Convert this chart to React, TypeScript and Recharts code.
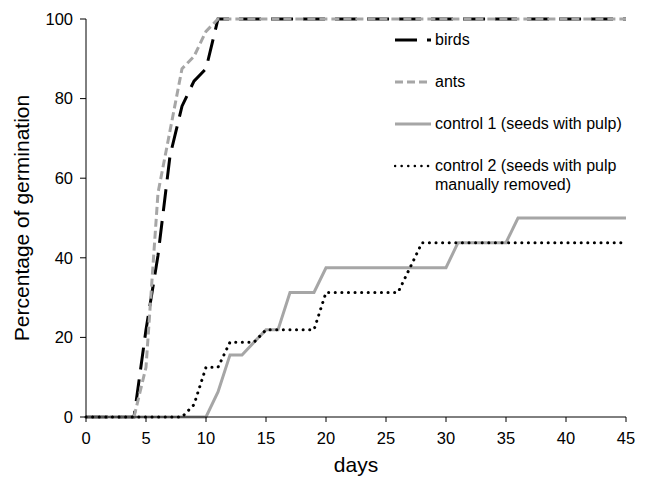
import React from "react";
import {
  LineChart,
  Line,
  XAxis,
  YAxis,
  Legend,
  Label,
} from "recharts";

const days = [
  0, 1, 2, 3, 4, 5, 6, 7, 8, 9, 10, 11, 12, 13, 14, 15, 16, 17, 18, 19, 20, 21,
  22, 23, 24, 25, 26, 27, 28, 29, 30, 31, 32, 33, 34, 35, 36, 37, 38, 39, 40,
  41, 42, 43, 44, 45,
];

const birds = [
  0, 0, 0, 0, 0, 21.9, 40.6, 65.6, 78.1, 84.4, 87.5, 100, 100, 100, 100, 100,
  100, 100, 100, 100, 100, 100, 100, 100, 100, 100, 100, 100, 100, 100, 100,
  100, 100, 100, 100, 100, 100, 100, 100, 100, 100, 100, 100, 100, 100, 100,
];

const ants = [
  0, 0, 0, 0, 0, 12.5, 56.3, 71.9, 87.5, 90.6, 96.9, 100, 100, 100, 100, 100,
  100, 100, 100, 100, 100, 100, 100, 100, 100, 100, 100, 100, 100, 100, 100,
  100, 100, 100, 100, 100, 100, 100, 100, 100, 100, 100, 100, 100, 100, 100,
];

const control1 = [
  0, 0, 0, 0, 0, 0, 0, 0, 0, 0, 0, 6.3, 15.6, 15.6, 18.8, 21.9, 21.9, 31.3,
  31.3, 31.3, 37.5, 37.5, 37.5, 37.5, 37.5, 37.5, 37.5, 37.5, 37.5, 37.5, 37.5,
  43.8, 43.8, 43.8, 43.8, 43.8, 50, 50, 50, 50, 50, 50, 50, 50, 50, 50,
];

const control2 = [
  0, 0, 0, 0, 0, 0, 0, 0, 0, 3.1, 12.5, 12.5, 18.8, 18.8, 18.8, 21.9, 21.9,
  21.9, 21.9, 21.9, 31.3, 31.3, 31.3, 31.3, 31.3, 31.3, 31.3, 37.5, 43.8, 43.8,
  43.8, 43.8, 43.8, 43.8, 43.8, 43.8, 43.8, 43.8, 43.8, 43.8, 43.8, 43.8, 43.8,
  43.8, 43.8, 43.8,
];

const xTicks = [0, 5, 10, 15, 20, 25, 30, 35, 40, 45];
const yTicks = [0, 20, 40, 60, 80, 100];

const data = days.map((d, i) => ({
  day: d,
  birds: birds[i],
  ants: ants[i],
  control1: control1[i],
  control2: control2[i],
}));

const FONT = '"Liberation Sans", Arial, sans-serif';
const GREY = "#a6a6a6";

// drawing order: birds first, ants over it, then the controls
const series = [
  { key: "birds", label: ["birds"], color: "#000", dash: "22 10", cap: "butt" },
  { key: "ants", label: ["ants"], color: GREY, dash: "8 4", cap: "butt" },
  {
    key: "control1",
    label: ["control 1 (seeds with pulp)"],
    color: GREY,
    dash: undefined,
    cap: "butt",
  },
  {
    key: "control2",
    label: ["control 2 (seeds with pulp", "manually removed)"],
    color: "#000",
    dash: "0.1 6.5",
    cap: "round",
  },
];

function LegendBox() {
  return (
    <div style={{ fontFamily: FONT, fontSize: 16, color: "#000" }}>
      {series.map((s, i) => (
        <div
          key={s.key}
          style={{
            display: "flex",
            alignItems: "flex-start",
            marginBottom: i < series.length - 1 ? 22 : 0,
          }}
        >
          <svg width={38} height={20} style={{ flex: "none" }}>
            <line
              x1={1}
              y1={10}
              x2={37}
              y2={10}
              stroke={s.color}
              strokeWidth={s.key === "control2" ? 2.5 : 3}
              strokeDasharray={s.dash}
              strokeLinecap={s.cap as any}
            />
          </svg>
          <div style={{ marginLeft: 3 }}>
            {s.label.map((t) => (
              <div key={t} style={{ height: 19, lineHeight: "20px", whiteSpace: "nowrap" }}>
                {t}
              </div>
            ))}
          </div>
        </div>
      ))}
    </div>
  );
}

export default function App() {
  return (
    <div
      style={{
        position: "absolute",
        left: 0,
        top: 0,
        width: 646,
        height: 482,
        background: "#fff",
      }}
    >
      <LineChart
        width={646}
        height={482}
        data={data}
        margin={{ top: 19, right: 20, left: 0, bottom: 0 }}
      >
        <XAxis
          dataKey="day"
          type="number"
          domain={[0, 45]}
          ticks={xTicks}
          height={65}
          tickSize={5}
          tickMargin={10}
          axisLine={{ stroke: "#000" }}
          tickLine={{ stroke: "#000" }}
          tick={{ fontSize: 16.5, fill: "#000", fontFamily: FONT }}
        >
          <Label
            value="days"
            position="insideBottom"
            offset={10}
            style={{ fontSize: 21, fill: "#000", fontFamily: FONT }}
          />
        </XAxis>
        <YAxis
          type="number"
          domain={[0, 100]}
          ticks={yTicks}
          width={86}
          tickSize={6}
          tickMargin={7}
          axisLine={{ stroke: "#000" }}
          tickLine={{ stroke: "#000" }}
          tick={{ fontSize: 16.5, fill: "#000", fontFamily: FONT }}
        >
          <Label
            value="Percentage of germination"
            angle={-90}
            position="insideLeft"
            offset={22}
            style={{
              fontSize: 21,
              fill: "#000",
              fontFamily: FONT,
              textAnchor: "middle",
            }}
          />
        </YAxis>
        <Legend
          layout="vertical"
          align="center"
          verticalAlign="middle"
          content={() => <LegendBox />}
          wrapperStyle={{ left: 394, top: 30, width: 250 }}
        />
        {series.map((s) => (
          <Line
            key={s.key}
            type="linear"
            dataKey={s.key}
            stroke={s.color}
            strokeWidth={3}
            strokeDasharray={s.dash}
            strokeLinecap={s.cap as any}
            dot={false}
            activeDot={false}
            isAnimationActive={false}
          />
        ))}
      </LineChart>
    </div>
  );
}
